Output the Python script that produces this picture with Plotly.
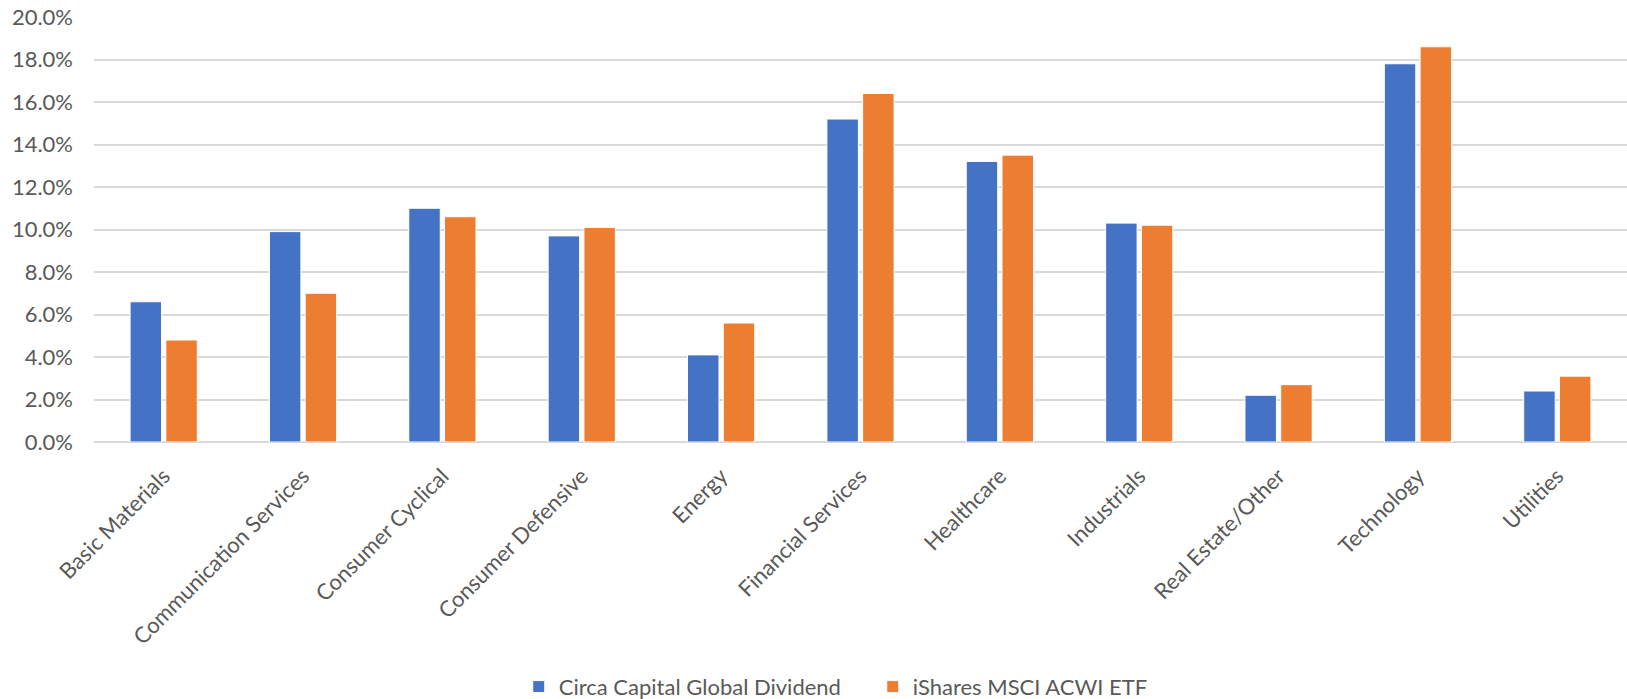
import plotly.graph_objects as go

categories = ["Basic Materials", "Communication Services", "Consumer Cyclical", "Consumer Defensive",
              "Energy", "Financial Services", "Healthcare", "Industrials", "Real Estate/Other",
              "Technology", "Utilities"]
circa = [6.6, 9.9, 11.0, 9.7, 4.1, 15.2, 13.2, 10.3, 2.2, 17.8, 2.4]
ishares = [4.8, 7.0, 10.6, 10.1, 5.6, 16.4, 13.5, 10.2, 2.7, 18.6, 3.1]
series_names = ["Circa Capital Global Dividend", "iShares MSCI ACWI ETF"]
y_ticks = [0, 2, 4, 6, 8, 10, 12, 14, 16, 18, 20]
y_tick_labels = [f"{v:.1f}%" for v in y_ticks]

FONT = "Lato"
GREY = "#595959"

fig = go.Figure()
fig.add_trace(go.Bar(name=series_names[0], x=categories, y=circa,
                     marker=dict(color="#4472C4", line=dict(width=1, color="#ffffff"))))
fig.add_trace(go.Bar(name=series_names[1], x=categories, y=ishares,
                     marker=dict(color="#ED7D31", line=dict(width=1, color="#ffffff"))))

fig.update_layout(
    width=1627, height=699,
    margin=dict(l=94, r=0, t=17, b=257, autoexpand=False),
    paper_bgcolor="white", plot_bgcolor="white",
    barmode="group", bargap=0.487, bargroupgap=0.12,
    font=dict(family=FONT, color=GREY, size=22),
    showlegend=True,
    legend=dict(orientation="h", x=0.508, xanchor="center", y=-0.576, yanchor="middle",
                font=dict(family=FONT, size=22, color=GREY), itemwidth=30,
                entrywidth=309, entrywidthmode="pixels",
                traceorder="normal"),
)
fig.update_xaxes(tickangle=-45, showgrid=False, showline=False, ticks="", automargin=False,
                 ticklabelstandoff=16,
                 tickfont=dict(family=FONT, size=22, color=GREY))
fig.update_yaxes(range=[0, 20], tickvals=y_ticks, ticktext=y_tick_labels, automargin=False,
                 showgrid=True, gridcolor="#D9D9D9", gridwidth=1.5,
                 zeroline=True, zerolinecolor="#D9D9D9", zerolinewidth=1.5,
                 showline=False, ticks="", ticklabelstandoff=20,
                 tickfont=dict(family=FONT, size=22, color=GREY))

fig.write_html("out.html")
